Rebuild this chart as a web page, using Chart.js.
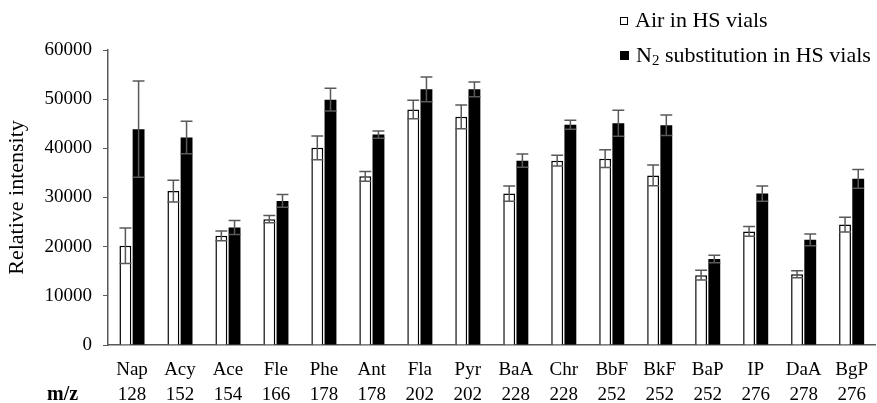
<!DOCTYPE html>
<html>
<head>
<meta charset="utf-8">
<script src="https://cdn.jsdelivr.net/npm/chart.js@4.4.1/dist/chart.umd.min.js"></script>
<style>
  html, body { margin: 0; padding: 0; overflow: hidden; background: #fff; }
  #wrap { position: relative; width: 877px; height: 403px; overflow: hidden; }
  canvas { position: absolute; left: 0; top: 0; }
  .lg { position: absolute; font: 22px "Liberation Serif", "Times New Roman", serif; color: #000; white-space: nowrap; line-height: 1; }
  .box { display: inline-block; box-sizing: border-box; border: 1px solid #000; margin-right: 7px; vertical-align: 2px; }
  #mz { position: absolute; left: 47px; top: 383px; font: bold 20px "Liberation Serif", "Times New Roman", serif; line-height: 1; }
</style>
</head>
<body>
<div id="wrap">
  <canvas id="c" width="881" height="403"></canvas>
  <div class="lg" style="left:620px; top:9px;"><span class="box" style="width:8px;height:8px;background:#fff;"></span>Air in HS vials</div>
  <div class="lg" style="left:620px; top:44px;"><span class="box" style="width:9px;height:9px;background:#000;"></span>N<sub style="font-size:15px;vertical-align:-3px;line-height:0;">2</sub> substitution in HS vials</div>
  <div id="mz">m/z</div>
</div>
<script>
// 多环芳烃 (PAHs) 相对强度: 空气 vs N2 置换
const compounds = ["Nap", "Acy", "Ace", "Fle", "Phe", "Ant", "Fla", "Pyr", "BaA", "Chr", "BbF", "BkF", "BaP", "IP", "DaA", "BgP"];
const mzValues = [128, 152, 154, 166, 178, 178, 202, 202, 228, 228, 252, 252, 252, 276, 278, 276];

const airValues = [20200, 31300, 22200, 25600, 40100, 34300, 47900, 46400, 30800, 37500, 37900, 34500, 14200, 23100, 14400, 24500];
const airErrors = [3600, 2200, 1000, 750, 2400, 1000, 1900, 2400, 1550, 1100, 1800, 2100, 1000, 1000, 700, 1500];

const n2Values = [43900, 42200, 23900, 29300, 49900, 42800, 52000, 52000, 37500, 44800, 45100, 44700, 17500, 30800, 21400, 33800];
const n2Errors = [9800, 3300, 1400, 1300, 2300, 750, 2500, 1500, 1350, 900, 2650, 2100, 750, 1550, 1200, 1900];

const yTicks = [0, 10000, 20000, 30000, 40000, 50000, 60000];

const FONT = "'Liberation Serif', 'Times New Roman', serif";
const AXIS = "#595959";

// 误差线: 画在柱子之后, 上下对称
const errorBars = {
  id: "errorBars",
  afterDatasetsDraw(chart) {
    const { ctx } = chart;
    const y = chart.scales.y;
    ctx.save();
    ctx.strokeStyle = AXIS;
    ctx.lineWidth = 1.5;
    chart.data.datasets.forEach((ds, di) => {
      const meta = chart.getDatasetMeta(di);
      meta.data.forEach((bar, i) => {
        const v = ds.data[i], e = ds.errors[i];
        const yt = y.getPixelForValue(v + e);
        const yb = y.getPixelForValue(v - e);
        const half = bar.width / 2;
        ctx.beginPath();
        ctx.moveTo(bar.x, yt); ctx.lineTo(bar.x, yb);
        ctx.moveTo(bar.x - half, yt); ctx.lineTo(bar.x + half, yt);
        ctx.moveTo(bar.x - half, yb); ctx.lineTo(bar.x + half, yb);
        ctx.stroke();
      });
    });
    ctx.restore();
  },
};

new Chart(document.getElementById("c"), {
  type: "bar",
  data: {
    labels: compounds.map((c, i) => [c, String(mzValues[i])]),
    datasets: [
      {
        label: "Air in HS vials",
        data: airValues,
        errors: airErrors,
        backgroundColor: "#ffffff",
        borderColor: "#000000",
        borderWidth: 1.5,
        borderSkipped: "bottom",
      },
      {
        label: "N2 substitution in HS vials",
        data: n2Values,
        errors: n2Errors,
        backgroundColor: "#000000",
        borderColor: "#000000",
        borderWidth: 0,
      },
    ],
  },
  plugins: [errorBars],
  options: {
    responsive: false,
    animation: false,
    categoryPercentage: 0.55,
    barPercentage: 0.9,
    layout: { padding: { top: 50, left: 0, right: 0, bottom: 0 } },
    plugins: { legend: { display: false }, tooltip: { enabled: false } },
    scales: {
      x: {
        grid: { display: false, drawTicks: false },
        border: { display: true, color: AXIS, width: 1.5 },
        ticks: { color: "#000", font: { family: FONT, size: 19, lineHeight: 1.3 }, padding: 13, maxRotation: 0, autoSkip: false },
        afterFit: (s) => { s.height = 58; },
      },
      y: {
        min: 0,
        max: 60000,
        afterBuildTicks: (s) => { s.ticks = yTicks.map((v) => ({ value: v })); },
        grid: { drawOnChartArea: false, drawTicks: true, tickLength: 5, color: AXIS },
        border: { display: true, color: AXIS, width: 1.5 },
        ticks: { color: "#000", font: { family: FONT, size: 19 }, padding: 11, callback: (v) => String(v) },
        title: { display: true, text: "Relative intensity", color: "#000", font: { family: FONT, size: 22 }, padding: { top: 4, bottom: 0 } },
        afterFit: (s) => { s.width = 108; },
      },
    },
  },
});
</script>
</body>
</html>
